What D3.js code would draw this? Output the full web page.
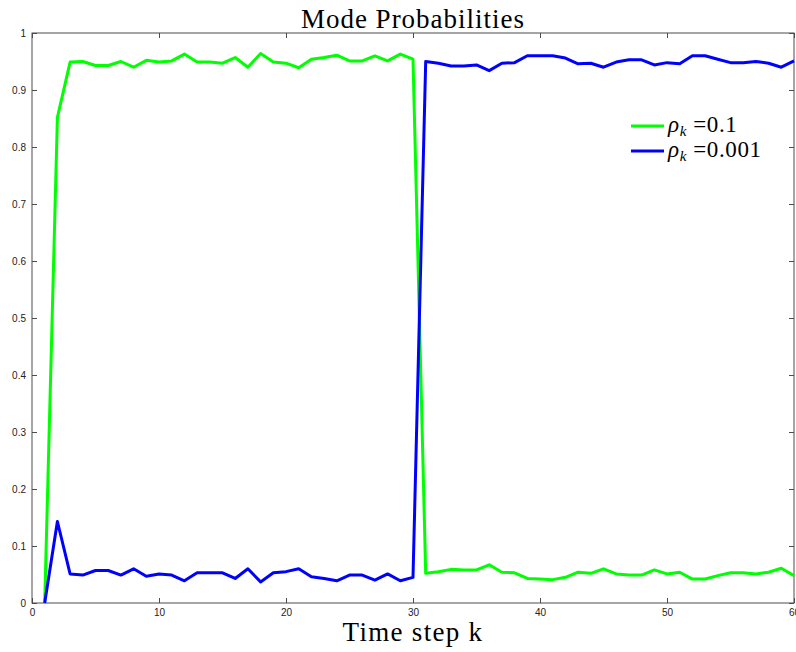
<!DOCTYPE html>
<html>
<head>
<meta charset="utf-8">
<script src="https://cdn.jsdelivr.net/npm/d3@7"></script>
<style>
  body { margin: 0; background: #fff; }
  svg { display: block; }
</style>
</head>
<body>
<div id="chart"></div>
<script>
// time steps 1..60
const steps = d3.range(1, 61);

// rho_k = 0.1 (green)
const greenVals = [
	0.0, 0.852, 0.949, 0.950, 0.943, 0.943, 0.950, 0.940, 0.952, 0.949,
	0.951, 0.963, 0.949, 0.949, 0.947, 0.957, 0.940, 0.964, 0.949, 0.947,
	0.939, 0.954, 0.957, 0.961, 0.951, 0.951, 0.960, 0.951, 0.963, 0.954,
	0.052, 0.055, 0.059, 0.058, 0.058, 0.067, 0.054, 0.053, 0.043, 0.042,
	0.041, 0.045, 0.054, 0.052, 0.060, 0.051, 0.049, 0.049, 0.058, 0.051,
	0.054, 0.042, 0.042, 0.048, 0.053, 0.053, 0.051, 0.054, 0.061, 0.048
];

// rho_k = 0.001 (blue)
const blueVals = [
	0.0, 0.143, 0.051, 0.049, 0.057, 0.057, 0.049, 0.060, 0.047, 0.051,
	0.049, 0.039, 0.053, 0.053, 0.053, 0.043, 0.060, 0.037, 0.053, 0.055,
	0.060, 0.046, 0.043, 0.039, 0.049, 0.049, 0.040, 0.051, 0.039, 0.045,
	0.950, 0.947, 0.942, 0.942, 0.944, 0.934, 0.947, 0.948, 0.960, 0.960,
	0.960, 0.956, 0.946, 0.947, 0.940, 0.949, 0.953, 0.953, 0.944, 0.948,
	0.946, 0.960, 0.960, 0.954, 0.948, 0.948, 0.950, 0.947, 0.940, 0.951
];

const xTicks = [0, 10, 20, 30, 40, 50, 60];
const yTicks = [0, 0.1, 0.2, 0.3, 0.4, 0.5, 0.6, 0.7, 0.8, 0.9, 1];
const yTickLabels = ["0", "0.1", "0.2", "0.3", "0.4", "0.5", "0.6", "0.7", "0.8", "0.9", "1"];

const seriesNames = ["0.1", "0.001"];
const seriesColors = ["#00ff00", "#0000ff"];

const width = 796, height = 652;
const margin = {top: 33, right: 2, bottom: 49, left: 32};

const svg = d3.select("#chart").append("svg")
	.attr("width", width)
	.attr("height", height);

const x = d3.scaleLinear().domain([0, 60]).range([margin.left, width - margin.right]);
const y = d3.scaleLinear().domain([0, 1]).range([height - margin.bottom, margin.top]);

const axisColor = "#4d4d4d";
const tickFont = "'Liberation Sans', Arial, sans-serif";

// bottom axis, ticks pointing inward
const gx = svg.append("g")
	.attr("transform", `translate(0,${y(0)})`)
	.call(d3.axisBottom(x).tickValues(xTicks).tickSizeInner(-5).tickSizeOuter(0).tickPadding(6));
// left axis
const gy = svg.append("g")
	.attr("transform", `translate(${x(0)},0)`)
	.call(d3.axisLeft(y).tickValues(yTicks).tickFormat((d, i) => yTickLabels[i])
		.tickSizeInner(-5).tickSizeOuter(0).tickPadding(6));
// top & right ticks without labels
const gt = svg.append("g")
	.attr("transform", `translate(0,${y(1)})`)
	.call(d3.axisTop(x).tickValues(xTicks).tickSizeInner(-5).tickSizeOuter(0).tickFormat(""));
const gr = svg.append("g")
	.attr("transform", `translate(${x(60)},0)`)
	.call(d3.axisRight(y).tickValues(yTicks).tickSizeInner(-5).tickSizeOuter(0).tickFormat(""));

[gx, gy, gt, gr].forEach(g =>
{
	g.select(".domain").remove();
	g.selectAll("line").attr("stroke", axisColor);
	g.selectAll("text").attr("fill", "#222").style("font-family", tickFont).style("font-size", "10px");
});

// the box
svg.append("rect")
	.attr("x", x(0)).attr("y", y(1))
	.attr("width", x(60) - x(0)).attr("height", y(0) - y(1))
	.attr("fill", "none")
	.attr("stroke", axisColor)
	.attr("stroke-width", 1);

const line = d3.line()
	.x((d, i) => x(steps[i]))
	.y(d => y(d));

svg.append("path")
	.datum(greenVals)
	.attr("d", line)
	.attr("fill", "none")
	.attr("stroke", seriesColors[0])
	.attr("stroke-width", 3)
	.attr("stroke-linejoin", "round");

svg.append("path")
	.datum(blueVals)
	.attr("d", line)
	.attr("fill", "none")
	.attr("stroke", seriesColors[1])
	.attr("stroke-width", 3)
	.attr("stroke-linejoin", "round");

const serif = "'Liberation Serif', 'Times New Roman', serif";

// title
svg.append("text")
	.attr("x", (x(0) + x(60)) / 2)
	.attr("y", 28)
	.attr("text-anchor", "middle")
	.style("font-family", serif)
	.style("font-size", "27px")
	.style("letter-spacing", "1px")
	.text("Mode Probabilities");

// x label
svg.append("text")
	.attr("x", (x(0) + x(60)) / 2)
	.attr("y", 641)
	.attr("text-anchor", "middle")
	.style("font-family", serif)
	.style("font-size", "27px")
	.style("letter-spacing", "1.3px")
	.text("Time step k");

// legend
const legend = svg.append("g").attr("transform", "translate(631,126)");
seriesNames.forEach((name, i) =>
{
	const row = legend.append("g").attr("transform", `translate(0,${i * 25})`);
	row.append("line")
		.attr("x1", 0).attr("x2", 33)
		.attr("y1", 0).attr("y2", 0)
		.attr("stroke", seriesColors[i])
		.attr("stroke-width", 3);
	const t = row.append("text")
		.attr("x", 37)
		.attr("y", 6)
		.style("font-family", serif)
		.style("font-size", "23px")
		.style("letter-spacing", "0.6px");
	t.append("tspan").style("font-style", "italic").text("ρ");
	t.append("tspan").style("font-style", "italic").style("font-size", "15px").attr("dy", 4).text("k");
	t.append("tspan").attr("dy", -4).text(" =" + name);
});
</script>
</body>
</html>
